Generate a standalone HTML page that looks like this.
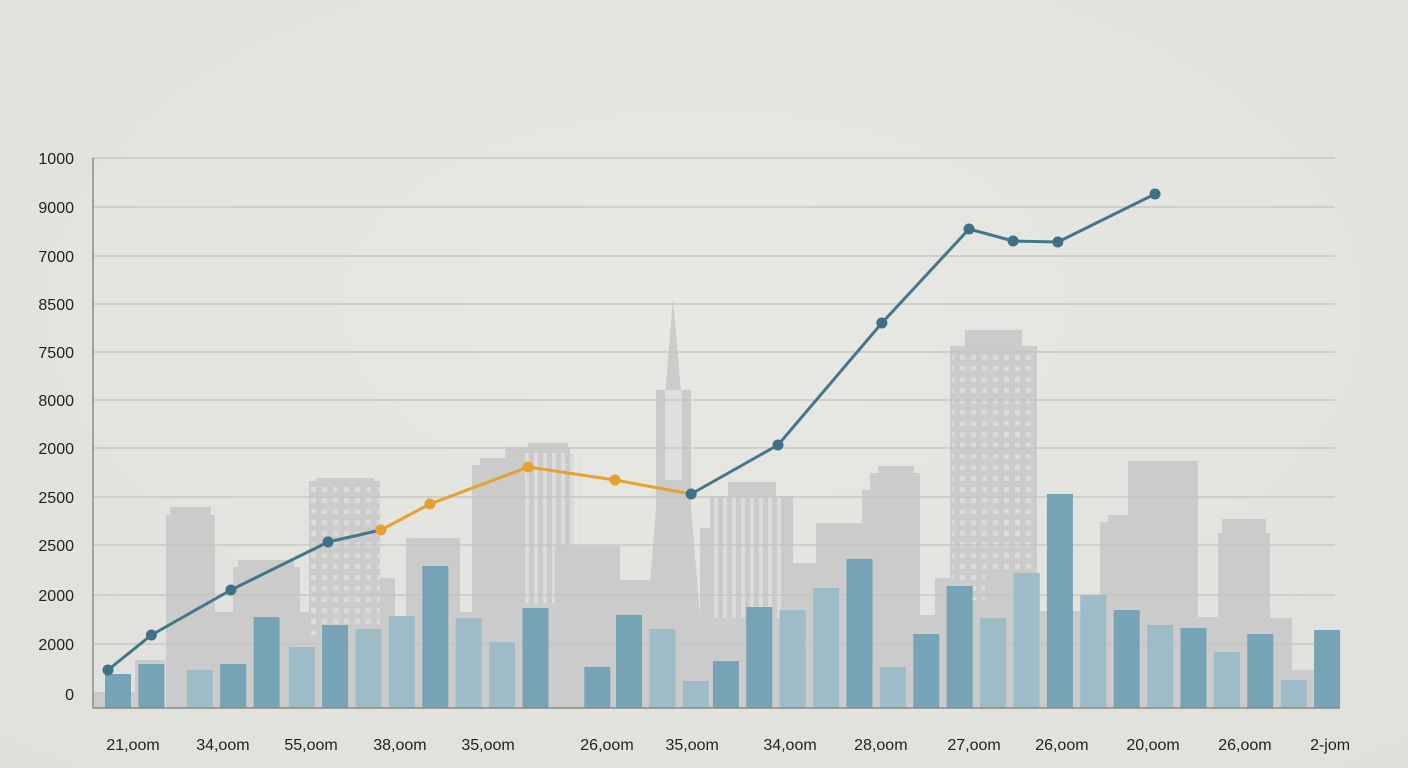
<!DOCTYPE html>
<html><head><meta charset="utf-8"><style>
html,body{margin:0;padding:0;background:#e4e5e0;}
svg{display:block;font-family:"Liberation Sans",sans-serif;}
</style></head><body>
<svg id="chart" width="1408" height="768" viewBox="0 0 1408 768">
<defs>
<pattern id="dots" width="11" height="11" patternUnits="userSpaceOnUse"><rect x="3" y="3" width="5" height="5" fill="#dadada"/></pattern>
<pattern id="stripes" width="9" height="10" patternUnits="userSpaceOnUse"><rect x="3" y="0" width="4" height="10" fill="#dcdcdc"/></pattern>
<radialGradient id="bg" cx="0.5" cy="0.4" r="0.8"><stop offset="0" stop-color="#e7e8e3"/><stop offset="1" stop-color="#dfe0db"/></radialGradient>
</defs>
<rect width="1408" height="768" fill="url(#bg)"/>
<g id="skyline" fill="#cbcbcb">
<rect x="93" y="692" width="42" height="16"/>
<rect x="135" y="660" width="30" height="48"/>
<rect x="166" y="515" width="49" height="193"/><rect x="170" y="507" width="41" height="10"/>
<rect x="215" y="612" width="20" height="96"/>
<rect x="233" y="567" width="67" height="141"/><rect x="238" y="560" width="56" height="9"/>
<rect x="300" y="612" width="10" height="96"/>
<rect x="309" y="481" width="71" height="227"/><rect x="316" y="478" width="58" height="5"/>
<rect x="309" y="485" width="71" height="150" fill="url(#dots)"/>
<rect x="380" y="578" width="15" height="130"/>
<rect x="406" y="538" width="54" height="170"/>
<rect x="460" y="612" width="12" height="96"/>
<rect x="472" y="465" width="50" height="243"/><rect x="480" y="458" width="25" height="9"/>
<rect x="505" y="447" width="65" height="261"/><rect x="528" y="443" width="40" height="5"/>
<rect x="520" y="453" width="60" height="150" fill="url(#stripes)"/>
<rect x="555" y="546" width="65" height="162"/>
<rect x="620" y="580" width="30" height="128"/>
<polygon points="673,298 640,708 708,708"/>
<rect x="656" y="390" width="35" height="318"/>
<rect x="665" y="390" width="17" height="90" fill="#dedede"/>
<rect x="700" y="528" width="12" height="180"/>
<rect x="710" y="496" width="83" height="212"/><rect x="728" y="482" width="48" height="16"/>
<rect x="714" y="498" width="70" height="120" fill="url(#stripes)"/>
<rect x="793" y="563" width="23" height="145"/>
<rect x="816" y="523" width="46" height="185"/>
<rect x="870" y="473" width="50" height="235"/><rect x="878" y="466" width="36" height="9"/><rect x="862" y="490" width="8" height="218"/>
<rect x="920" y="615" width="15" height="93"/>
<rect x="935" y="578" width="50" height="130"/>
<rect x="950" y="346" width="87" height="362"/><rect x="965" y="330" width="57" height="17"/>
<rect x="952" y="350" width="84" height="250" fill="url(#dots)"/>
<rect x="985" y="573" width="55" height="135"/>
<rect x="1040" y="611" width="60" height="97"/>
<rect x="1100" y="522" width="55" height="186"/><rect x="1108" y="515" width="40" height="9"/>
<rect x="1128" y="461" width="70" height="247"/>
<rect x="1198" y="617" width="20" height="91"/>
<rect x="1218" y="533" width="52" height="175"/><rect x="1222" y="519" width="44" height="15"/>
<rect x="1270" y="618" width="22" height="90"/>
<rect x="1292" y="670" width="23" height="38"/>
</g>
<g id="grid"></g>
<g id="ylabels"></g>
<g id="bars"></g>
<g id="axes">
<line x1="93" y1="158" x2="93" y2="708" stroke="#8a8a8a" stroke-width="1.5"/>
<line x1="93" y1="708" x2="1340" y2="708" stroke="#8a8a8a" stroke-width="1.5"/>
</g>
<g id="lines"></g>
<g id="xlabels"></g>
</svg>
<script>
const yTickValues = [14, 64, 113, 163, 211, 260, 308, 356, 404, 452, 501, 550];
const yTickLabels = ["0","2000","2000","2500","2500","2000","8000","7500","8500","7000","9000","1000"];
const barX = [0,1,2.45,3.45,4.45,5.5,6.5,7.5,8.5,9.5,10.5,11.5,12.5,14.35,15.3,16.3,17.3,18.2,19.2,20.2,21.2,22.2,23.2,24.2,25.2,26.2,27.2,28.2,29.2,30.2,31.2,32.2,33.2,34.2,35.2,36.2];
const barValues = [34,44,38,44,91,61,83,79,92,142,90,66,100,41,93,79,27,47,101,98,120,149,41,74,122,90,135,214,113,98,83,80,56,74,28,78];
const barShade = ["d","d","l","d","d","l","d","l","l","d","l","l","d","d","d","l","l","d","d","l","l","d","l","d","d","l","l","d","l","d","l","d","l","d","l","d"];
const lineX = [-0.3,1,3.38,6.29,7.87,9.34,12.28,14.88,17.16,19.76,22.87,25.48,26.8,28.14,31.05];
const lineValues = [38,73,118,166,178,204,241,228,214,263,385,479,467,466,514];
const lineSeg = ["b","b","b","b","o","o","o","o","b","b","b","b","b","b","b"];
const xLabelPos = [0.45,3.14,5.78,8.44,11.08,14.64,17.19,20.12,22.84,25.63,28.26,30.99,33.74,36.29];
const xLabels = ["21,oom","34,oom","55,oom","38,oom","35,oom","26,oom","35,oom","34,oom","28,oom","27,oom","26,oom","20,oom","26,oom","2-jom"];

const NS = "http://www.w3.org/2000/svg";
const xS = u => 118 + u * 33.4;
const yS = v => 708 - v;
function mk(tag, attrs, parent){const e=document.createElementNS(NS,tag);for(const k in attrs)e.setAttribute(k,attrs[k]);parent.appendChild(e);return e;}

const grid=document.getElementById('grid'), yl=document.getElementById('ylabels');
yTickValues.forEach((v,i)=>{
  if(i>0){const g=mk('line',{x1:93,x2:1335,y1:yS(v),y2:yS(v),stroke:'#c2c3bf','stroke-width':1.3},grid);
  
  }
  const t=mk('text',{x:74,y:yS(v)+6,'text-anchor':'end','font-size':16,fill:'#222'},yl);
  t.textContent=yTickLabels[i];
  
  
});
const bars=document.getElementById('bars');
barValues.forEach((v,i)=>{
  const r=mk('rect',{x:xS(barX[i])-13,y:yS(v),width:26,height:v,fill:barShade[i]==='d'?'#76a3b5':'#9dbcc8'},bars);
  
  
});
const lines=document.getElementById('lines');
for(let i=0;i<lineValues.length-1;i++){
  const col = (lineSeg[i+1]==='o' && lineSeg[i]==='o') || (lineSeg[i]==='o' && lineSeg[i+1]==='b' && i===7) ? '#e8a030' : '#437789';
  const l=mk('line',{x1:xS(lineX[i]),y1:yS(lineValues[i]),x2:xS(lineX[i+1]),y2:yS(lineValues[i+1]),stroke:col,'stroke-width':3,'stroke-linecap':'round'},lines);
  
  
}
lineValues.forEach((v,i)=>{
  const c=mk('circle',{cx:xS(lineX[i]),cy:yS(v),r:5.5,fill:lineSeg[i]==='o'?'#e8a030':'#3f7184'},lines);
  
  
});
const xl=document.getElementById('xlabels');
xLabels.forEach((s,i)=>{
  const t=mk('text',{x:xS(xLabelPos[i]),y:750,'text-anchor':'middle','font-size':16,fill:'#222'},xl);
  t.textContent=s;
  
  
});
</script>
</body></html>
